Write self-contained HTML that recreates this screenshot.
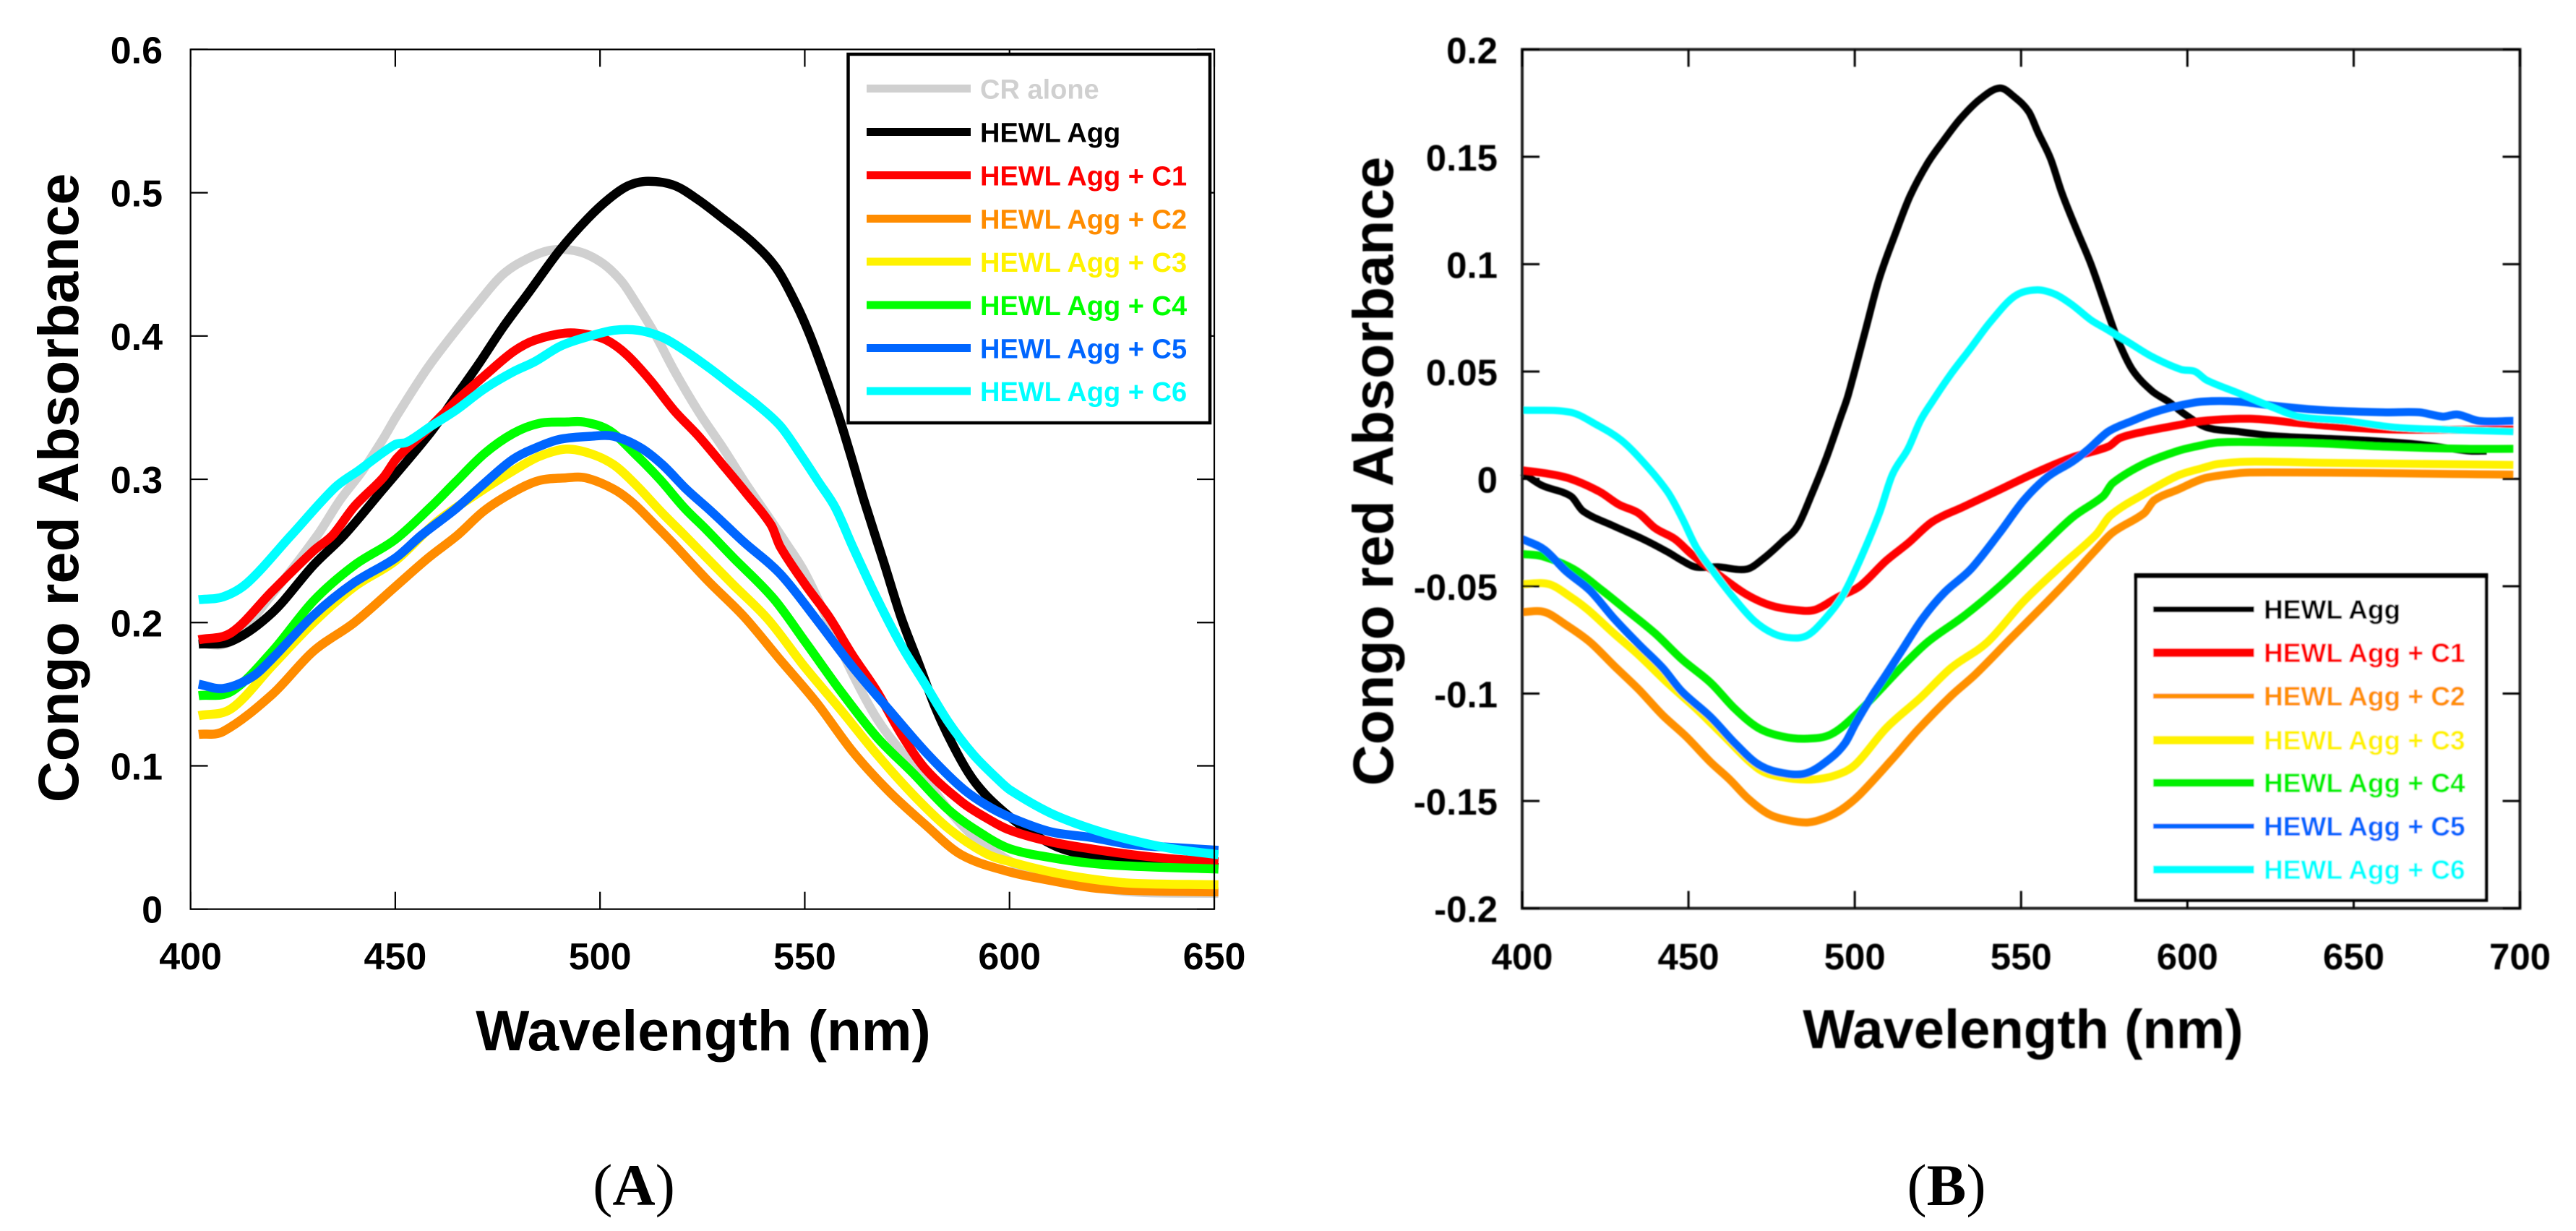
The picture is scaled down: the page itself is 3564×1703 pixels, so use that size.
<!DOCTYPE html>
<html lang="en">
<head>
<meta charset="utf-8">
<title>Congo red absorbance spectra</title>
<style>
html,body{margin:0;padding:0;background:#fff;}
body{width:3564px;height:1703px;overflow:hidden;}
svg{display:block;}
text{font-family:"Liberation Sans",Arial,sans-serif;font-weight:bold;}
.cap{font-family:"Liberation Serif",serif;font-weight:normal;}
</style>
</head>
<body>
<svg id="fig" xmlns="http://www.w3.org/2000/svg" width="3564" height="1703" viewBox="0 0 3564 1703">
  <defs>
    <filter id="soft" x="-5%" y="-5%" width="110%" height="110%"><feGaussianBlur stdDeviation="0.9"/></filter>
    <clipPath id="clipA"><rect x="263" y="60" width="1423" height="1198"/></clipPath>
    <clipPath id="clipB"><rect x="2100" y="60" width="1396" height="1198"/></clipPath>
  </defs>
  <rect width="3564" height="1703" fill="#fff"/>
  <g id="panelA"></g>
  <g id="panelB" filter="url(#soft)"></g>
  <text class="cap" x="877" y="1667" font-size="82" text-anchor="middle">(<tspan font-weight="bold">A</tspan>)</text>
  <text class="cap" x="2693" y="1667" font-size="82" text-anchor="middle">(<tspan font-weight="bold">B</tspan>)</text>
</svg>
<script>
// ---------- Panel A data ----------
const aTicksX = [400,450,500,550,600,650];
const aTicksY = [0,0.1,0.2,0.3,0.4,0.5,0.6];
const aTickLabelsY = ['0','0.1','0.2','0.3','0.4','0.5','0.6'];

const aCrAloneWl = [402,410,420,431,436.4,442,447,450.5,458.7,470.5,476.3,482.3,488.2,494.7,500.5,505.3,508.8,513.5,518.1,524.1,530,535.8,541.8,545.3,550,555.9,561.7,567.6,573.6,579.4,585.2,591.1,597,605,615,630,651];
const aCrAlone   = [.185,.187,.22,.261,.285,.306,.328,.345,.381,.424,.443,.454,.46,.459,.451,.438,.423,.401,.376,.347,.322,.296,.271,.256,.235,.2,.164,.133,.11,.091,.069,.051,.039,.026,.018,.012,.011];
const aHewlWl = [402,410,420,430,437.5,447,458.7,464.6,470.5,476.3,482.5,490.2,497,502.3,507,511.8,518.2,524,530,537,542.9,547.6,551.2,554.7,558.2,561.2,564.5,569.3,573.6,578,581.7,585.2,590,594.1,599.4,605,612,620,630,640,651];
const aHewl   = [.185,.187,.207,.24,.261,.293,.333,.357,.381,.406,.43,.46,.482,.496,.505,.508,.505,.495,.482,.466,.448,.424,.401,.374,.345,.317,.285,.242,.203,.17,.142,.12,.095,.08,.066,.054,.043,.037,.033,.031,.029];
const aC1Wl = [402,410,420,430,434.7,440,447,450.5,458.7,465,471.7,478.8,484,491.5,497,501.7,506.5,512.3,518.1,524.1,530,535.8,541.8,544,550,555.9,561.7,567.6,573.6,579.4,588.2,594.1,600.2,610,620,630,640,651];
const aC1   = [.188,.193,.222,.25,.261,.281,.301,.315,.337,.355,.372,.389,.397,.402,.401,.397,.387,.369,.348,.33,.31,.29,.268,.253,.227,.204,.177,.152,.122,.098,.075,.064,.055,.047,.042,.038,.035,.033];
const aC2Wl = [402,408,420,430,440,450,458,465.2,471.7,478.8,485,491.7,496.5,503.4,508.2,513.5,517.6,526.4,535.2,544,552.9,561.7,570.6,579.4,588.2,600,610,620,630,651];
const aC2   = [.122,.124,.15,.18,.2,.225,.245,.261,.278,.291,.299,.301,.301,.293,.283,.268,.256,.229,.204,.174,.144,.11,.082,.059,.038,.026,.02,.015,.013,.012];
const aC3Wl = [402,410,420,430,440,450,460,470,480,485.2,491.7,497.6,503.4,508.8,515,520.6,532.3,541.1,550,558.8,567.6,576.4,585.2,594.1,600.2,610,620,630,651];
const aC3   = [.135,.14,.17,.2,.225,.243,.27,.29,.308,.316,.321,.318,.31,.296,.277,.261,.227,.202,.169,.139,.108,.08,.056,.039,.033,.026,.021,.018,.017];
const aC4Wl = [402,410,420,430,440,450,458.8,464.7,471.8,478.8,485.2,492,496,502.3,508.8,514.6,520.6,525.9,532.3,542.3,550,558.8,567.6,576.4,585.2,594.1,600.2,610,620,630,651];
const aC4   = [.149,.152,.18,.215,.24,.258,.281,.298,.318,.332,.339,.34,.34,.334,.317,.3,.28,.265,.246,.217,.187,.152,.12,.095,.069,.051,.042,.036,.032,.03,.028];
const aC5Wl = [402,408,415,420,430,440,450,456.4,464.6,471.7,478.8,485.2,490.4,497.6,503.4,509.9,515.3,521.1,527,535.2,544,552.9,561.7,570.6,579.4,588.2,594.1,600.2,610,620,630,640,651];
const aC5   = [.157,.154,.162,.175,.205,.228,.245,.261,.279,.297,.314,.323,.328,.33,.33,.322,.31,.293,.278,.256,.234,.202,.169,.139,.11,.085,.073,.064,.054,.05,.045,.043,.041];
const aC6Wl = [402,408,414,424.6,435.2,441,449.8,452.9,458.7,464.7,471.7,478.8,484,490.4,497.6,503.4,509.3,515.3,521.1,527,532.9,538.8,544.1,548.8,553.4,557.5,561.7,567.6,573.6,579.4,585.2,591.1,597,600.2,610,620,630,640,651];
const aC6   = [.216,.218,.228,.261,.294,.306,.324,.326,.337,.348,.363,.375,.382,.393,.4,.404,.404,.399,.389,.377,.364,.351,.337,.318,.298,.28,.253,.217,.184,.157,.13,.108,.091,.083,.067,.056,.048,.042,.038];

// ---------- Panel B data ----------
const bTicksX = [400,450,500,550,600,650,700];
const bTicksY = [-0.2,-0.15,-0.1,-0.05,0,0.05,0.1,0.15,0.2];
const bTickLabelsY = ['-0.2','-0.15','-0.1','-0.05','0','0.05','0.1','0.15','0.2'];

const bHewlWl = [400,405.9,414.6,418.3,427.6,436.3,443.7,448,452,458.9,467.6,472.6,478.4,482.8,487.1,491.5,495.8,498,503,507.3,512.4,516.7,521.9,526.9,531.9,537.8,543.6,547.9,552.3,555.2,558.9,562.3,566.7,571,576.2,579,583.4,589.3,594.3,599.3,605.8,615.3,626.2,639.2,652.9,670,684.9,690];
const bHewl   = [.003,-.003,-.008,-.015,-.022,-.028,-.034,-.038,-.041,-.041,-.042,-.037,-.029,-.022,-.007,.01,.029,.039,.068,.093,.115,.132,.147,.158,.168,.177,.182,.178,.171,.161,.149,.133,.116,.1,.077,.065,.051,.041,.036,.03,.024,.022,.02,.019,.018,.016,.013,.013];
const bC1Wl = [400,407.4,414.6,423.3,429.1,435,440,445.9,450.9,460.2,467.6,474.8,481.9,488,495,501.5,509.5,516,523.3,532.7,543.6,554.5,565.4,576.2,579.7,587,597.1,604.5,618.8,633.4,647.9,662.3,698];
const bC1   = [.004,.0025,0,-.006,-.012,-.016,-.023,-.028,-.035,-.046,-.054,-.059,-.061,-.061,-.055,-.05,-.038,-.03,-.02,-.013,-.005,.003,.01,.015,.019,.022,.025,.027,.028,.026,.024,.023,.023];
const bC2Wl = [400,406.7,413.2,420.4,427.6,435,442.2,449.3,456.7,462.4,468,474,480,486,491,496,501.5,511,518.9,529,536.3,547.1,558,565.4,572.5,577.5,587,590,597.1,604.5,609.5,618.8,698];
const bC2   = [-.062,-.062,-.068,-.076,-.087,-.098,-.11,-.12,-.132,-.14,-.149,-.156,-.159,-.16,-.158,-.154,-.147,-.131,-.117,-.101,-.091,-.074,-.057,-.045,-.033,-.025,-.016,-.01,-.005,0,.0015,.003,.002];
const bC3Wl = [400,408,414.6,419.8,427.6,435,443.7,453,460.2,471,478.4,487,494.3,500.2,509.5,519.7,529,539.9,550.8,561.7,572.5,576.9,587,597.1,604.5,609.5,618.8,640.6,698];
const bC3   = [-.049,-.049,-.055,-.061,-.072,-.082,-.095,-.108,-.119,-.135,-.139,-.14,-.138,-.133,-.116,-.102,-.088,-.076,-.057,-.041,-.026,-.017,-.007,.0015,.005,.007,.008,.0075,.0065];
const bC4Wl = [400,405.9,415.4,424.1,431.3,440,448,456.7,463.9,471,478.4,485.6,492.8,500.2,514.5,521.9,532.7,543.6,554.5,565.4,574.7,577.5,587,597.1,602.3,609.5,626.2,640.6,659.5,684,698];
const bC4   = [-.035,-.036,-.042,-.052,-.061,-.072,-.084,-.095,-.107,-.116,-.12,-.121,-.119,-.11,-.087,-.076,-.064,-.05,-.034,-.018,-.008,-.002,.007,.013,.015,.017,.017,.0165,.015,.014,.014];
const bC5Wl = [400,406.7,413.2,420.4,427.6,435,442.2,448,456.7,463.9,471,478.4,485.6,492.8,497.1,500.2,505.2,509.5,514.5,520.4,526.9,534.9,543.6,550.8,558,565.4,570.4,576.2,583.4,590,597.1,604.5,615.3,626.2,640.6,658.8,669.7,676.8,681.2,687.7,698];
const bC5   = [-.028,-.033,-.043,-.052,-.065,-.077,-.088,-.099,-.111,-.123,-.133,-.137,-.137,-.13,-.123,-.114,-.101,-.091,-.079,-.065,-.053,-.042,-.025,-.01,.001,.008,.014,.022,.027,.031,.034,.036,.036,.034,.032,.031,.031,.029,.03,.027,.027];
const bC6Wl = [400,414.6,422.6,429.8,436.3,443.7,448,452.4,457.4,463.9,469.7,475.5,480.6,485.6,490.6,496.5,501.5,507.4,511.3,516,519.7,523.3,529,534.9,540.7,548,554.5,560.2,565.4,571,575.4,581.9,589.3,598,602.3,605.8,615.3,626.2,633.4,647.9,662.3,676.8,698];
const bC6   = [.032,.031,.025,.018,.008,-.006,-.018,-.032,-.043,-.056,-.066,-.072,-.074,-.073,-.066,-.054,-.038,-.016,.002,.014,.027,.036,.049,.061,.073,.085,.088,.086,.081,.074,.07,.064,.057,.051,.05,.046,.04,.033,.029,.027,.024,.023,.022];

const NS = 'http://www.w3.org/2000/svg';

function mk(parent, tag, attrs, content) {
  const el = document.createElementNS(NS, tag);
  for (const k in attrs) el.setAttribute(k, attrs[k]);
  if (content !== undefined) el.textContent = content;
  parent.appendChild(el);
  return el;
}

function curvePath(xs, ys, sx, sy) {
  const px = xs.map(sx), py = ys.map(sy), n = px.length;
  const m = [];
  for (let i = 0; i < n; i++) {
    const a = Math.max(0, i - 1), b = Math.min(n - 1, i + 1);
    m.push((py[b] - py[a]) / (px[b] - px[a]));
  }
  let d = 'M' + px[0].toFixed(1) + ' ' + py[0].toFixed(1);
  for (let i = 0; i < n - 1; i++) {
    const dx = (px[i + 1] - px[i]) / 3;
    d += 'C' + (px[i] + dx).toFixed(1) + ' ' + (py[i] + m[i] * dx).toFixed(1) + ' ' +
         (px[i + 1] - dx).toFixed(1) + ' ' + (py[i + 1] - m[i + 1] * dx).toFixed(1) + ' ' +
         px[i + 1].toFixed(1) + ' ' + py[i + 1].toFixed(1);
  }
  return d;
}

function drawAxes(g, cfg) {
  const sx = cfg.sx, sy = cfg.sy;
  const frame = mk(g, 'rect', {x: cfg.left, y: cfg.top, width: cfg.right - cfg.left, height: cfg.bottom - cfg.top, fill: 'none', stroke: cfg.axisColor, 'stroke-width': cfg.axisW});
  
  
  cfg.ticksX.forEach(function (v) {
    const x = sx(v);
    const t1 = mk(g, 'line', {x1: x, x2: x, y1: cfg.bottom, y2: cfg.bottom - 24, stroke: '#000', 'stroke-width': cfg.tickW});
    
    
    const t2 = mk(g, 'line', {x1: x, x2: x, y1: cfg.top, y2: cfg.top + 24, stroke: '#000', 'stroke-width': cfg.tickW});
    
    
    const lab = mk(g, 'text', {x: x, y: 1341, 'font-size': cfg.tickFont, 'text-anchor': 'middle'}, String(v));
    
    
  });
  cfg.ticksY.forEach(function (v, i) {
    const y = sy(v);
    const t1 = mk(g, 'line', {x1: cfg.left, x2: cfg.left + 24, y1: y, y2: y, stroke: '#000', 'stroke-width': cfg.tickW});
    
    
    const t2 = mk(g, 'line', {x1: cfg.right, x2: cfg.right - 24, y1: y, y2: y, stroke: '#000', 'stroke-width': cfg.tickW});
    
    
    const lab = mk(g, 'text', {x: cfg.yLabelRight, y: y + 19, 'font-size': cfg.tickFont, 'text-anchor': 'end'}, cfg.tickLabelsY[i]);
    
    
  });
  const xt = mk(g, 'text', {x: cfg.xTitleX, y: cfg.xTitleY, 'font-size': cfg.xTitleFont, 'text-anchor': 'middle'}, 'Wavelength (nm)');
  
  
  const yt = mk(g, 'text', {transform: 'translate(' + cfg.yTitleX + ' ' + cfg.yTitleY + ') rotate(-90)', 'font-size': 79, 'text-anchor': 'middle'}, 'Congo red Absorbance');
  
  
}

function drawSeries(g, list, sx, sy, clip) {
  const holder = mk(g, 'g', {'clip-path': 'url(#' + clip + ')'});
  
  
  list.forEach(function (s) {
    const p = mk(holder, 'path', {d: curvePath(s.wl, s.val, sx, sy), fill: 'none', stroke: s.color, 'stroke-width': s.width, 'stroke-linejoin': 'round', 'stroke-linecap': 'butt'});
    
    
  });
}

function drawLegend(g, lg, list) {
  const box = mk(g, 'rect', {x: lg.x, y: lg.y, width: lg.w, height: lg.h, fill: '#fff', stroke: '#000', 'stroke-width': lg.stroke});
  
  
  if (lg.topW) {
    const top = mk(g, 'line', {x1: lg.x - lg.stroke / 2, x2: lg.x + lg.w + lg.stroke / 2, y1: lg.y, y2: lg.y, stroke: '#000', 'stroke-width': lg.topW});
    
    
  }
  list.forEach(function (s, i) {
    const y = lg.rows[i];
    const l = mk(g, 'line', {x1: lg.x1, x2: lg.x2, y1: y, y2: y, stroke: s.color, 'stroke-width': s.legendW});
    
    
    const t = mk(g, 'text', {x: lg.tx, y: y + lg.dy, 'font-size': lg.font, fill: s.color}, s.label);
    
    
  });
}

// ---------- Panel A ----------
(function () {
  const g = document.getElementById('panelA');
  const L = 263.6, R = 1680, T = 68.4, B = 1257.7;
  const sx = function (v) { return L + (v - 400) / 250 * (R - L); };
  const sy = function (v) { return B - v / 0.6 * (B - T); };
  const series = [
    {id: 'cr-alone', label: 'CR alone', color: '#d0d0d0', width: 12.5, legendW: 11, wl: aCrAloneWl, val: aCrAlone},
    {id: 'hewl-agg', label: 'HEWL Agg', color: '#000000', width: 12.5, legendW: 11, wl: aHewlWl, val: aHewl},
    {id: 'hewl-c1', label: 'HEWL Agg + C1', color: '#ff0000', width: 12.5, legendW: 11, wl: aC1Wl, val: aC1},
    {id: 'hewl-c2', label: 'HEWL Agg + C2', color: '#ff8c00', width: 12.5, legendW: 11, wl: aC2Wl, val: aC2},
    {id: 'hewl-c3', label: 'HEWL Agg + C3', color: '#fff200', width: 12.5, legendW: 11, wl: aC3Wl, val: aC3},
    {id: 'hewl-c4', label: 'HEWL Agg + C4', color: '#00ff00', width: 12.5, legendW: 11, wl: aC4Wl, val: aC4},
    {id: 'hewl-c5', label: 'HEWL Agg + C5', color: '#0066ff', width: 12.5, legendW: 11, wl: aC5Wl, val: aC5},
    {id: 'hewl-c6', label: 'HEWL Agg + C6', color: '#00ffff', width: 12.5, legendW: 11, wl: aC6Wl, val: aC6}
  ];
  drawSeries(g, series, sx, sy, 'clipA');
  drawAxes(g, {left: L, right: R, top: T, bottom: B, sx: sx, sy: sy, axisW: 2.2, tickW: 2.2, axisColor: '#000', ticksX: aTicksX, ticksY: aTicksY, tickLabelsY: aTickLabelsY, tickFont: 52, yLabelRight: 225, xTitleX: 973, xTitleY: 1453, xTitleFont: 78.5, yTitleX: 108, yTitleY: 675});
  drawLegend(g, {x: 1173.5, y: 75, w: 500.5, h: 510, stroke: 4.5, rows: [122.5,182.5,242.5,302.5,362,422,481.5,541], x1: 1199, x2: 1343, tx: 1356, dy: 14, font: 38}, series);
})();

// ---------- Panel B ----------
(function () {
  const g = document.getElementById('panelB');
  const L = 2106, R = 3486.5, T = 68.4, B = 1256.6;
  const sx = function (v) { return L + (v - 400) / 300 * (R - L); };
  const sy = function (v) { return B - (v + 0.2) / 0.4 * (B - T); };
  const series = [
    {id: 'hewl-agg', label: 'HEWL Agg', color: '#000000', width: 10, legendW: 8, wl: bHewlWl, val: bHewl},
    {id: 'hewl-c1', label: 'HEWL Agg + C1', color: '#ff0000', width: 11, legendW: 12, wl: bC1Wl, val: bC1},
    {id: 'hewl-c2', label: 'HEWL Agg + C2', color: '#ff9000', width: 11, legendW: 7, wl: bC2Wl, val: bC2},
    {id: 'hewl-c3', label: 'HEWL Agg + C3', color: '#fff200', width: 11, legendW: 12, wl: bC3Wl, val: bC3},
    {id: 'hewl-c4', label: 'HEWL Agg + C4', color: '#00f000', width: 11, legendW: 11, wl: bC4Wl, val: bC4},
    {id: 'hewl-c5', label: 'HEWL Agg + C5', color: '#0066ff', width: 11, legendW: 7, wl: bC5Wl, val: bC5},
    {id: 'hewl-c6', label: 'HEWL Agg + C6', color: '#00ffff', width: 10, legendW: 11, wl: bC6Wl, val: bC6}
  ];
  drawSeries(g, series, sx, sy, 'clipB');
  drawAxes(g, {left: L, right: R, top: T, bottom: B, sx: sx, sy: sy, axisW: 4, tickW: 3, axisColor: '#222', ticksX: bTicksX, ticksY: bTicksY, tickLabelsY: bTickLabelsY, tickFont: 51, yLabelRight: 2072, xTitleX: 2799, xTitleY: 1450, xTitleFont: 76, yTitleX: 1927, yTitleY: 652});
  drawLegend(g, {x: 2955, y: 796.5, w: 485, h: 449, stroke: 4.5, topW: 7, rows: [843,903,963,1024,1083,1143,1203], x1: 2979, x2: 3118.6, tx: 3132, dy: 13, font: 37}, series);
})();
</script>
</body>
</html>
